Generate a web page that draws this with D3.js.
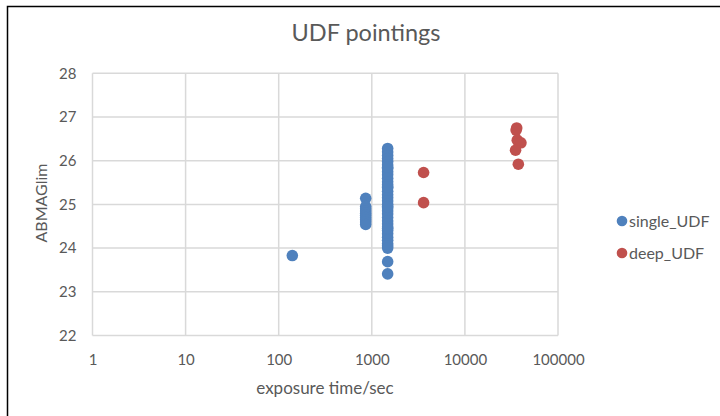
<!DOCTYPE html>
<html><head><meta charset="utf-8">
<script src="https://cdn.jsdelivr.net/npm/d3@7"></script>
<style>body{margin:0;background:#fff}svg{display:block}</style>
</head><body>
<script>
const title = "UDF pointings";
const xTitle = "exposure time/sec";
const yTitle = "ABMAGlim";
const xTicks = [1, 10, 100, 1000, 10000, 100000];
const yTicks = [22, 23, 24, 25, 26, 27, 28];
const seriesNames = ["single_UDF", "deep_UDF"];
const singleX = [140,
  860, 860, 860, 860, 860, 860, 860, 860, 860, 860,
  1480, 1480, 1480, 1480, 1480, 1480, 1480, 1480, 1480, 1480,
  1480, 1480, 1480, 1480, 1480, 1480, 1480, 1480, 1480, 1480,
  1480, 1480, 1480, 1480, 1480, 1480, 1480, 1480, 1480, 1480,
  1480, 1480, 1480, 1480, 1480, 1480, 1480, 1480];
const singleY = [23.83,
  25.14, 24.95, 24.9, 24.85, 24.8, 24.75, 24.7, 24.65, 24.6, 24.54,
  26.28, 26.2, 26.12, 26.05, 25.98, 25.9, 25.82, 25.75, 25.68, 25.6,
  25.52, 25.45, 25.38, 25.3, 25.22, 25.15, 25.08, 25.0, 24.92, 24.85,
  24.78, 24.7, 24.62, 24.55, 24.48, 24.4, 24.33, 24.25, 24.18, 24.1,
  24.05, 24.0, 23.69, 23.41, 25.85, 25.4, 24.95, 24.45];
const deepX = [3600, 3600, 36000, 35500, 36500, 40000, 35000, 37500];
const deepY = [25.73, 25.04, 26.75, 26.7, 26.47, 26.41, 26.24, 25.92];
const colors = ["#4F81BD", "#C0504D"];

const W = 720, H = 416;
const svg = d3.select("body").append("svg").attr("width", W).attr("height", H);
const font = "Lato, 'Open Sans', sans-serif";
const txt = "#595959";

svg.append("rect").attr("x", 7.5).attr("y", 6.5).attr("width", W).attr("height", H)
  .attr("fill", "#fff").attr("stroke", "#000").attr("stroke-width", 1.5);

const x = d3.scaleLog().domain([1, 100000]).range([92.5, 558]);
const y = d3.scaleLinear().domain([22, 28]).range([335.5, 73.3]);

const g = svg.append("g");
g.selectAll("line.v").data(xTicks).join("line")
  .attr("x1", d => x(d)).attr("x2", d => x(d))
  .attr("y1", y(22)).attr("y2", y(28))
  .attr("stroke", "#d9d9d9").attr("stroke-width", 1.5);
g.selectAll("line.h").data(yTicks).join("line")
  .attr("x1", x(1)).attr("x2", x(100000))
  .attr("y1", d => y(d)).attr("y2", d => y(d))
  .attr("stroke", "#d9d9d9").attr("stroke-width", 1.5);

const xAxis = d3.axisBottom(x).tickValues(xTicks).tickFormat(d3.format("d")).tickSize(0).tickPadding(19);
const xa = svg.append("g").attr("transform", `translate(0,${y(22)})`).call(xAxis);
xa.select(".domain").remove();
xa.selectAll("text").attr("fill", txt).style("font-family", font).style("font-size", "15px");

const yAxis = d3.axisLeft(y).tickValues(yTicks).tickFormat(d3.format("d")).tickSize(0).tickPadding(16);
const ya = svg.append("g").attr("transform", `translate(${x(1)},0)`).call(yAxis);
ya.select(".domain").remove();
ya.selectAll("text").attr("fill", txt).style("font-family", font).style("font-size", "15px");

const single = singleX.map((v, i) => ({x: v, y: singleY[i]}));
const deep = deepX.map((v, i) => ({x: v, y: deepY[i]}));
[single, deep].forEach((data, k) => {
  svg.append("g").selectAll("circle").data(data).join("circle")
    .attr("cx", d => x(d.x)).attr("cy", d => y(d.y)).attr("r", 5.8)
    .attr("fill", colors[k]);
});

svg.append("text").attr("x", 366).attr("y", 41).attr("text-anchor", "middle")
  .attr("fill", txt).style("font-family", font).style("font-size", "23.5px").text(title);
svg.append("text").attr("x", 325).attr("y", 394).attr("text-anchor", "middle")
  .attr("fill", txt).style("font-family", font).style("font-size", "17px").text(xTitle);
svg.append("text").attr("transform", "translate(47,203) rotate(-90)").attr("text-anchor", "middle")
  .attr("fill", txt).style("font-family", font).style("font-size", "16px").text(yTitle);

const leg = svg.append("g").selectAll("g").data(seriesNames).join("g")
  .attr("transform", (d, i) => `translate(622,${221 + i * 32})`);
leg.append("circle").attr("r", 5.3).attr("fill", (d, i) => colors[i]);
leg.append("text").attr("x", 7).attr("dy", "0.35em").attr("fill", txt)
  .style("font-family", font).style("font-size", "16px").text(d => d);
</script>
</body></html>
